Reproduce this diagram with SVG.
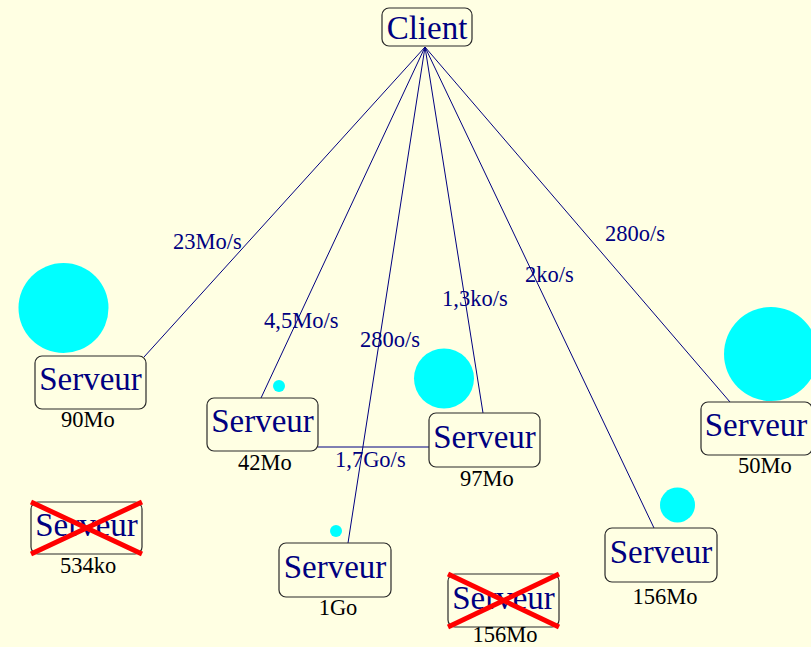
<svg xmlns="http://www.w3.org/2000/svg" width="811" height="647" viewBox="0 0 811 647">
  <style>
    .bg { fill: #ffffe3; }
    .box { fill: none; stroke: #2a2a2a; stroke-width: 1.2; }
    .name { font-family: "Liberation Serif", "Times New Roman", serif; font-size: 33px; fill: #000080; text-anchor: middle; }
    .size { font-family: "Liberation Serif", "Times New Roman", serif; font-size: 22.5px; fill: #000000; text-anchor: middle; }
    .rate { font-family: "Liberation Serif", "Times New Roman", serif; font-size: 22.5px; fill: #000080; }
    .link { stroke: #000080; stroke-width: 1; fill: none; }
    .load { fill: #00ffff; }
    .down { stroke: #ff0000; stroke-width: 5; }
  </style>
  <rect class="bg" x="0" y="0" width="811" height="647"/>

  <!-- links from the client to each server -->
  <g id="connectors">
    <line class="link" x1="425" y1="47" x2="144" y2="357"/>
    <line class="link" x1="425" y1="47" x2="261" y2="398"/>
    <line class="link" x1="425" y1="47" x2="348" y2="543"/>
    <line class="link" x1="425" y1="47" x2="483" y2="413"/>
    <line class="link" x1="425" y1="47" x2="654" y2="528"/>
    <line class="link" x1="425" y1="47" x2="730" y2="402"/>
    <line class="link" x1="318" y1="447" x2="429" y2="447"/>
    <text class="rate" x="173" y="249">23Mo/s</text>
    <text class="rate" x="264" y="328">4,5Mo/s</text>
    <text class="rate" x="360" y="347">280o/s</text>
    <text class="rate" x="442" y="306">1,3ko/s</text>
    <text class="rate" x="525" y="282">2ko/s</text>
    <text class="rate" x="605" y="241">280o/s</text>
    <text class="rate" x="335" y="467">1,7Go/s</text>
  </g>

  <g id="client">
    <rect class="box" x="382" y="8" width="90" height="38" rx="7"/>
    <text class="name" x="427" y="39">Client</text>
  </g>

  <g id="server-90Mo">
    <circle class="load" cx="63.5" cy="308" r="45"/>
    <rect class="box" x="35" y="356" width="111" height="53" rx="7"/>
    <text class="name" x="90.5" y="390">Serveur</text>
    <text class="size" x="88" y="427">90Mo</text>
  </g>

  <g id="server-42Mo">
    <circle class="load" cx="279" cy="386" r="6"/>
    <rect class="box" x="207" y="398" width="111" height="53" rx="7"/>
    <text class="name" x="262.5" y="432">Serveur</text>
    <text class="size" x="265" y="470">42Mo</text>
  </g>

  <g id="server-97Mo">
    <circle class="load" cx="444" cy="378.5" r="30"/>
    <rect class="box" x="429" y="413" width="111" height="54" rx="7"/>
    <text class="name" x="484.5" y="448">Serveur</text>
    <text class="size" x="487" y="486">97Mo</text>
  </g>

  <g id="server-50Mo">
    <circle class="load" cx="771" cy="354" r="47"/>
    <rect class="box" x="701" y="402" width="111" height="53" rx="7"/>
    <text class="name" x="756" y="436">Serveur</text>
    <text class="size" x="765" y="473">50Mo</text>
  </g>

  <g id="server-1Go">
    <circle class="load" cx="336" cy="531" r="6"/>
    <rect class="box" x="279" y="543" width="112" height="54" rx="7"/>
    <text class="name" x="335" y="578">Serveur</text>
    <text class="size" x="338" y="615">1Go</text>
  </g>

  <g id="server-156Mo">
    <circle class="load" cx="677.5" cy="505" r="17.5"/>
    <rect class="box" x="605" y="528" width="112" height="54" rx="7"/>
    <text class="name" x="661" y="563">Serveur</text>
    <text class="size" x="665" y="604">156Mo</text>
  </g>

  <!-- servers that are out of service -->
  <g id="server-534ko">
    <rect class="box" x="31" y="502" width="111" height="52" rx="7"/>
    <text class="name" x="86.5" y="536">Serveur</text>
    <line class="down" x1="31" y1="502" x2="142" y2="554"/>
    <line class="down" x1="31" y1="554" x2="142" y2="502"/>
    <text class="size" x="88" y="573">534ko</text>
  </g>

  <g id="server-156Mo-down">
    <rect class="box" x="448" y="574" width="111" height="53" rx="7"/>
    <text class="name" x="503.5" y="609">Serveur</text>
    <line class="down" x1="448" y1="574" x2="559" y2="627"/>
    <line class="down" x1="448" y1="627" x2="559" y2="574"/>
    <text class="size" x="505" y="641.5">156Mo</text>
  </g>
</svg>
